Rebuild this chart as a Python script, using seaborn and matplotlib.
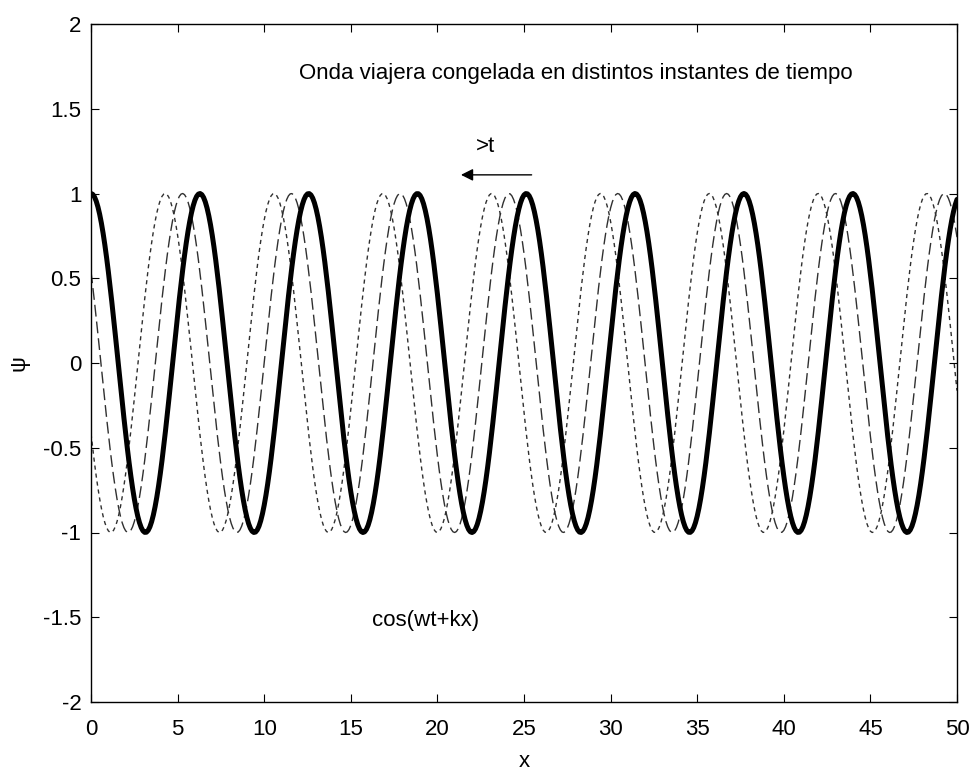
import numpy as np
import pandas as pd
import matplotlib
matplotlib.use("Agg")
import matplotlib.pyplot as plt
import seaborn as sns

# ---- data ----
x_limits = [0, 50]
y_limits = [-2, 2]
x_ticks = [0, 5, 10, 15, 20, 25, 30, 35, 40, 45, 50]
y_ticks = [-2, -1.5, -1, -0.5, 0, 0.5, 1, 1.5, 2]
y_tick_labels = ["-2", "-1.5", "-1", "-0.5", "0", "0.5", "1", "1.5", "2"]
wavenumber_k = 1.0
time_phases_wt = [2.0, 1.0, 0.0]     # three frozen instants (wt)
x_step = 0.1

title_text = "Onda viajera congelada en distintos instantes de tiempo"
formula_text = "cos(wt+kx)"
arrow_label = ">t"

sns.set_theme(style="white")
plt.rcParams["font.family"] = ["Liberation Sans", "DejaVu Sans"]
plt.rcParams["lines.scale_dashes"] = False
for key in ["text.color", "axes.labelcolor", "xtick.color", "ytick.color"]:
    plt.rcParams[key] = "black"

x = np.arange(x_limits[0], x_limits[1] + x_step / 2, x_step)
frames = []
for wt in time_phases_wt:
    frames.append(pd.DataFrame({"x": x, "psi": np.cos(wt + wavenumber_k * x), "wt": wt}))
df = pd.concat(frames, ignore_index=True)

fig = plt.figure(figsize=(9.7, 7.72), dpi=100)
ax = fig.add_axes([91 / 970, 70 / 772, (957 - 91) / 970, (702 - 24) / 772])

styles = {
    2.0: dict(color="#303030", linewidth=1.0, dashes=(3.0, 2.8)),
    1.0: dict(color="#303030", linewidth=1.0, dashes=(8.5, 3.6)),
    0.0: dict(color="black", linewidth=3.6),
}
for wt in time_phases_wt:
    sub = df[df["wt"] == wt]
    st = styles[wt]
    line_kw = dict(color=st["color"], linewidth=st["linewidth"])
    sns.lineplot(data=sub, x="x", y="psi", ax=ax, estimator=None, sort=False, **line_kw)
    if "dashes" in st:
        ax.lines[-1].set_dashes(st["dashes"])

FS = 16
ax.set_xlim(*x_limits)
ax.set_ylim(*y_limits)
ax.set_xticks(x_ticks)
ax.set_yticks(y_ticks)
ax.set_yticklabels(y_tick_labels)
ax.tick_params(direction="in", length=6, width=0.8, labelsize=FS, colors="black",
               top=True, right=True, bottom=True, left=True)
ax.tick_params(axis="x", pad=12)
ax.tick_params(axis="y", pad=7)
for sp in ax.spines.values():
    sp.set_visible(True)
    sp.set_color("black")
    sp.set_linewidth(1.0)
ax.set_xlabel("x", fontsize=FS, labelpad=8)
ax.set_ylabel("ψ", fontsize=FS, labelpad=10)

ax.text(12.0, 1.71, title_text, fontsize=FS, ha="left", va="center")
ax.text(22.2, 1.28, arrow_label, fontsize=FS, ha="left", va="center")
ax.annotate("", xy=(21.2, 1.11), xytext=(25.6, 1.11),
            arrowprops=dict(arrowstyle="-|>", color="black", lw=1.0, mutation_scale=18))
ax.text(16.2, -1.52, formula_text, fontsize=FS, ha="left", va="center")

fig.savefig("out.png", dpi=100)
